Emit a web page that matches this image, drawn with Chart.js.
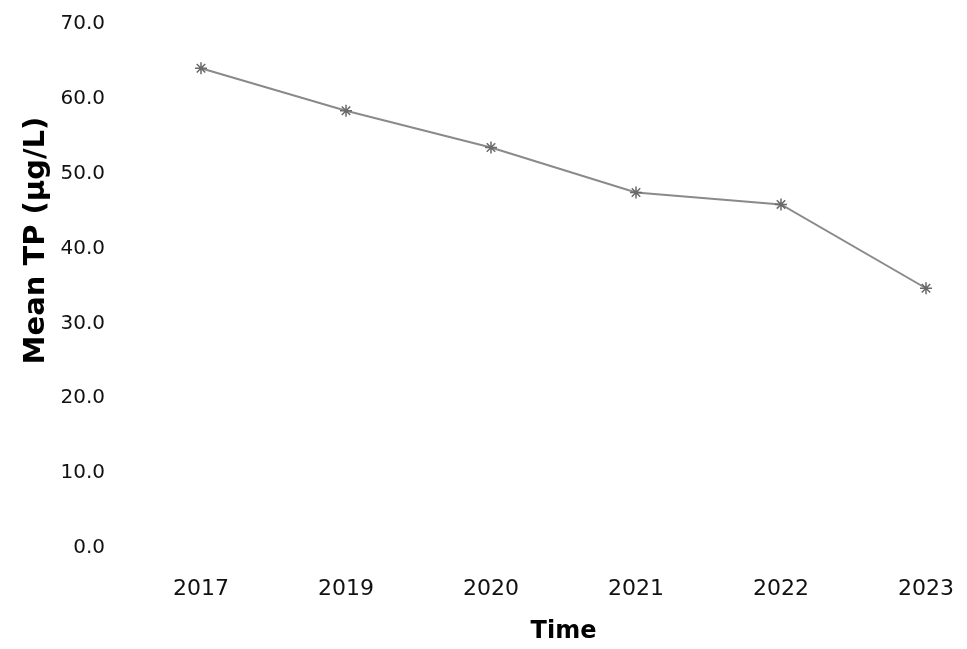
<!DOCTYPE html>
<html>
<head>
<meta charset="utf-8">
<script src="https://cdn.jsdelivr.net/npm/chart.js@4/dist/chart.umd.min.js"></script>
<style>
  body { margin: 0; background: #fff; }
  #wrap { width: 967px; height: 649px; }
</style>
</head>
<body>
<div id="wrap"><canvas id="chart" width="967" height="649"></canvas></div>
<script>
// data
var years = ["2017", "2019", "2020", "2021", "2022", "2023"];
var meanTP = [64.1, 58.4, 53.5, 47.5, 45.9, 34.7];
var yTicks = [0, 10, 20, 30, 40, 50, 60, 70];

var theChart = new Chart(document.getElementById("chart"), {
    type: 'line',
    data: {
        labels: years,
        datasets: [{
            label: "Mean TP",
            data: meanTP,
            borderColor: "#8a8a8a",
            borderWidth: 2,
            pointStyle: 'star',
            pointRadius: 6,
            pointBorderColor: "#6a6a6a",
            pointBorderWidth: 1.5,
            pointBackgroundColor: "#6a6a6a",
            tension: 0
        }]
    },
    options: {
        responsive: false,
        animation: false,
        layout: { padding: { top: 24, right: 41, left: 0, bottom: 0 } },
        plugins: { legend: { display: false }, tooltip: { enabled: false } },
        scales: {
            x: {
                grid: { display: false, drawTicks: false },
                border: { display: false },
                ticks: {
                    color: "#111",
                    font: { family: "DejaVu Sans", size: 22 },
                    padding: 28,
                    maxRotation: 0
                },
                title: {
                    display: true,
                    text: "Time",
                    color: "#000",
                    font: { family: "DejaVu Sans", size: 24, weight: 'bold' },
                    padding: { top: 0, bottom: 3 }
                },
                afterFit: function (scale) {
                    scale.height = 101;
                    // tick padding shouldn't eat into the sides
                    scale.paddingLeft = 0;
                    scale.paddingRight = 0;
                }
            },
            y: {
                min: yTicks[0],
                max: yTicks[yTicks.length - 1],
                grid: { display: false, drawTicks: false },
                border: { display: false },
                afterBuildTicks: function (scale) {
                    scale.ticks = yTicks.map(function (v) { return { value: v }; });
                },
                ticks: {
                    color: "#111",
                    font: { family: "DejaVu Sans", size: 20 },
                    padding: 96,
                    callback: function (v) { return Number(v).toFixed(1); }
                },
                title: {
                    display: true,
                    text: "\u00A0\u00A0\u00A0\u00A0\u00A0\u00A0\u00A0\u00A0\u00A0Mean TP (µg/L)",
                    color: "#000",
                    font: { family: "DejaVu Sans", size: 29, weight: 'bold' },
                    padding: { top: 19, bottom: 0 }
                },
                afterFit: function (scale) {
                    scale.width = 201;
                    scale.paddingTop = 0;
                    scale.paddingBottom = 0;
                }
            }
        }
    }
});
</script>
</body>
</html>
